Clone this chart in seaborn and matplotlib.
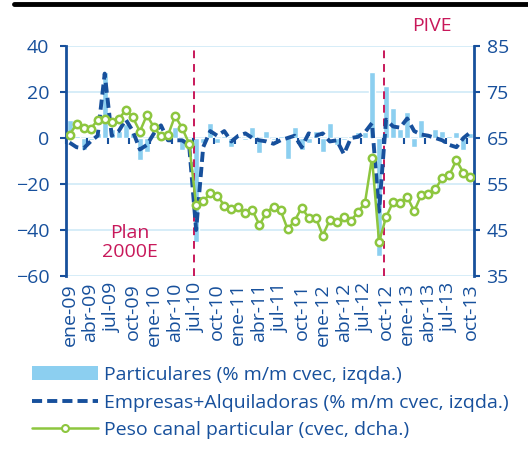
import matplotlib
matplotlib.use("Agg")
import matplotlib.pyplot as plt
import matplotlib.lines as mlines
import matplotlib.patches as mpatches
from matplotlib.ticker import NullFormatter
import numpy as np
import pandas as pd
import seaborn as sns

# ---------------- data ----------------
month_abbr = ["ene", "feb", "mar", "abr", "may", "jun", "jul", "ago", "sep", "oct", "nov", "dic"]
years = ["09", "10", "11", "12", "13"]
months = [f"{m}-{y}" for y in years for m in month_abbr][:58]   # ene-09 .. oct-13

tick_labels = ["ene-09", "abr-09", "jul-09", "oct-09", "ene-10", "abr-10", "jul-10",
               "oct-10", "ene-11", "abr-11", "jul-11", "oct-11", "ene-12", "abr-12",
               "jul-12", "oct-12", "ene-13", "abr-13", "jul-13", "oct-13"]

particulares = [8, 1, -5, -1, 2, 28.5, 4, 3, 6, 2,
                -9.5, -6, 1, 3, 1, 5, -5, -1, -45, -2,
                6.5, -2, 1, -4, 1, -1, 5, -6.5, 3, -1,
                1, -9.3, 5, -5, -2, 3, -6, 6.5, -3, -1,
                1, 2.5, 2.8, 28.5, -51.5, 22.5, 13, 4, 11.5, -4,
                8, 1, 4, 3, 1, 2.8, -5, 2.3]

empresas = [-2, -4, -4.5, -1.5, 1, 28, 1, 3, 8, 3,
            -5, -3, 2, 5.5, -1, -1, -1, -3, -40, -4,
            3, 1, 3, -1.5, 1, 2, 0, -1, -1.5, -2.5,
            -1, 0, 1, -4, 2, 1, 2, -1.5, -1, -7,
            0, 0.5, 2.5, 6.5, -32, 8, 5, 4.5, 8.5, 3,
            1.5, 1, 0, -1, -3, -4, 0, 2.5]

peso = [65.7, 68.0, 67.1, 67.0, 68.9, 69.1, 68.5, 69.1, 71.1, 69.5,
        66.4, 70.0, 67.3, 65.4, 65.6, 69.8, 67.2, 63.8, 50.4, 51.2,
        53.0, 52.5, 50.3, 49.5, 50.1, 48.6, 49.3, 46.1, 48.8, 50.1,
        49.3, 45.2, 47.0, 49.8, 47.7, 47.7, 43.8, 47.2, 46.7, 47.8,
        47.0, 48.9, 50.9, 60.7, 42.4, 47.8, 51.1, 50.9, 52.2, 49.1,
        52.6, 52.8, 53.9, 56.3, 57.0, 60.2, 57.4, 56.5]

labels = ["Particulares (% m/m cvec, izqda.)",
          "Empresas+Alquiladoras (% m/m cvec, izqda.)",
          "Peso canal particular (cvec, dcha.)"]

# ---------------- style ----------------
BLUE = "#17509c"
LIGHT = "#8ccff0"
GREEN = "#8dc63f"
GRID = "#cfeaf7"
RED = "#c8185a"

sns.set_style("white")
plt.rcParams["font.family"] = ["Open Sans", "DejaVu Sans"]
FS = 14

fig = plt.figure(figsize=(5.28, 4.57), dpi=100)
ax = fig.add_axes([66 / 528, 1 - 276 / 457, 408 / 528, 230 / 457])

df = pd.DataFrame({"mes": months, "particulares": particulares,
                   "empresas": empresas, "peso": peso})
df["pos"] = np.arange(len(df))

sns.barplot(data=df, x="mes", y="particulares", order=months, color=LIGHT,
            saturation=1, width=0.85, ax=ax, zorder=2)
sns.lineplot(data=df, x="pos", y="empresas", color=BLUE, linewidth=2.8,
             errorbar=None, ax=ax, zorder=4)
ax.lines[-1].set_dashes([2.6, 1.3])

ax.set_xlim(-0.5, len(months) - 0.5)
ax.set_ylim(-60, 40)
ax.set_yticks(np.arange(-60, 41, 20))
ax.yaxis.grid(True, color=GRID, linewidth=1.2, zorder=0)
ax.set_axisbelow(True)
ax.set_xlabel("")
ax.set_ylabel("")

# category labels
tick_pos = [months.index(t) for t in tick_labels]
ax.set_xticks(tick_pos)
ax.set_xticklabels(tick_labels, rotation=90, color=BLUE, fontsize=FS)
ax.tick_params(axis="x", length=0, pad=5)
ax.tick_params(axis="y", colors=BLUE, labelsize=FS, length=4, width=1.5,
               direction="out", pad=8)

for s in ["top", "bottom", "right"]:
    ax.spines[s].set_visible(False)
ax.spines["left"].set_color(BLUE)
ax.spines["left"].set_linewidth(2)

# zero axis line with ticks
zero_frac = (0 - (-60)) / (40 - (-60))
sec = ax.secondary_xaxis(zero_frac)
sec.set_xticks(np.arange(-0.5, len(months), 3))
sec.xaxis.set_major_formatter(NullFormatter())
sec.tick_params(axis="x", length=4, width=1.5, color=BLUE, direction="out",
                bottom=True, top=False, labelbottom=False, labeltop=False)
sec.xaxis.set_ticks_position("bottom")
sec.spines["bottom"].set_color(BLUE)
sec.spines["bottom"].set_linewidth(2)
for s in ["top", "left", "right"]:
    sec.spines[s].set_visible(False)
sec.set_zorder(6)

# event lines
for xev in [17.7, 44.75]:
    ax.axvline(xev, color=RED, linestyle=(0, (4, 3)), linewidth=1.4, zorder=3)

ax.text(8.6, -45.5, "Plan\n2000E", color=RED, fontsize=FS, ha="center",
        va="center", linespacing=1.05)
ax.text(51.5, 48.5, "PIVE", color=RED, fontsize=FS, ha="center", va="center",
        clip_on=False)

# right axis
ax2 = ax.twinx()
sns.lineplot(data=df, x="pos", y="peso", color=GREEN, linewidth=1.8, marker="o",
             markersize=5.3, markerfacecolor="white", markeredgecolor=GREEN,
             markeredgewidth=1.8, errorbar=None, ax=ax2, zorder=5)
ax2.set_ylim(35, 85)
ax2.set_yticks(np.arange(35, 86, 10))
ax2.set_ylabel("")
ax2.set_xlabel("")
ax2.tick_params(axis="y", colors=BLUE, labelsize=FS, length=4, width=1.5,
                direction="out", pad=5)
for s in ["top", "bottom", "left"]:
    ax2.spines[s].set_visible(False)
ax2.spines["right"].set_color(BLUE)
ax2.spines["right"].set_linewidth(2)
ax2.set_xlim(-0.5, len(months) - 0.5)

# top rule
fig.add_artist(mlines.Line2D([14 / 528, 1], [1 - 4 / 457, 1 - 4 / 457],
                             color="black", linewidth=3.5,
                             transform=fig.transFigure))

# legend
handles = [mpatches.Patch(facecolor=LIGHT, edgecolor="none"),
           mlines.Line2D([], [], color=BLUE, linewidth=2.8, dashes=[2.6, 1.3]),
           mlines.Line2D([], [], color=GREEN, linewidth=1.8, marker="o", markersize=5,
                         markerfacecolor="white", markeredgecolor=GREEN,
                         markeredgewidth=1.5)]
leg = fig.legend(handles, labels, loc="upper left",
                 bbox_to_anchor=(24 / 528, 1 - 358 / 457), frameon=False,
                 fontsize=FS, handlelength=3.4, handletextpad=0.3,
                 labelspacing=0.5, borderaxespad=0)
for t in leg.get_texts():
    t.set_color(BLUE)

fig.savefig("out.png", dpi=100)
